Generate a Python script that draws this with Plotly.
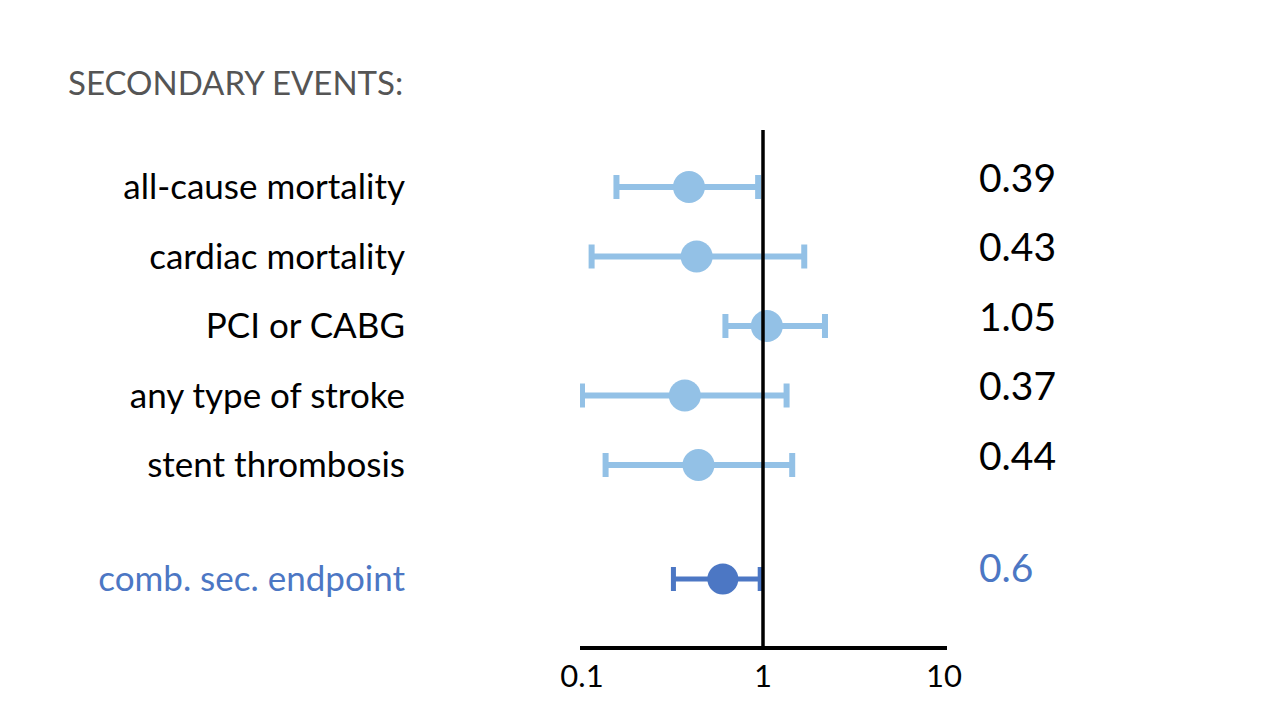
"""Forest plot: secondary events, hazard ratios with 95% CI on a log axis."""
import numpy as np
import plotly.graph_objects as go

# ── data ────────────────────────────────────────────────────────────────────
events = ["all-cause mortality", "cardiac mortality", "PCI or CABG",
          "any type of stroke", "stent thrombosis"]
hr = [0.39, 0.43, 1.05, 0.37, 0.44]
ci_low = [0.155, 0.113, 0.62, 0.10, 0.135]
ci_high = [0.94, 1.69, 2.2, 1.35, 1.45]
hr_labels = ["0.39", "0.43", "1.05", "0.37", "0.44"]

comb_name = "comb. sec. endpoint"
comb_hr = 0.6
comb_low = 0.32
comb_high = 0.965
comb_label = "0.6"

x_ticks = [0.1, 1, 10]
x_tick_text = ["0.1", "1", "10"]

# ── styling / layout ────────────────────────────────────────────────────────
LIGHT = "#93C1E6"
DARK = "#4C77C4"
FONT = "Lato"
W, H = 1280, 720
OFF = 8  # browser body margin shifts the figure by 8px right/down
row_pos = [0, 1, 2, 3, 4]
comb_pos = 5.64

fig = go.Figure()
fig.add_trace(go.Scatter(
    x=hr, y=row_pos, mode="markers",
    marker=dict(size=32, color=LIGHT),
    error_x=dict(type="data", symmetric=False,
                 array=list(np.array(ci_high) - np.array(hr)),
                 arrayminus=list(np.array(hr) - np.array(ci_low)),
                 color=LIGHT, thickness=6, width=12),
    showlegend=False, hoverinfo="skip", cliponaxis=False))
fig.add_trace(go.Scatter(
    x=[comb_hr], y=[comb_pos], mode="markers",
    marker=dict(size=31, color=DARK),
    error_x=dict(type="data", symmetric=False,
                 array=[comb_high - comb_hr], arrayminus=[comb_hr - comb_low],
                 color=DARK, thickness=5, width=12),
    showlegend=False, hoverinfo="skip"))

# reference line at HR = 1
fig.add_shape(type="line", x0=1, x1=1, xref="x", y0=0, y1=1, yref="y domain",
              line=dict(color="black", width=3.5), layer="above")

# HR values on the right, sitting slightly above each row
val_x = (977 - OFF) / W
for p, lab in zip(row_pos, hr_labels):
    fig.add_annotation(x=val_x, xref="paper", y=p - 0.15, yref="y", text=lab,
                       xanchor="left", showarrow=False,
                       font=dict(family=FONT, size=39, color="black"))
fig.add_annotation(x=val_x, xref="paper", y=comb_pos - 0.17, yref="y", text=comb_label,
                   xanchor="left", showarrow=False,
                   font=dict(family=FONT, size=39, color=DARK))

x0_px, x1_px = 580 - OFF, 947 - OFF
one_px, per_dec = 763 - OFF, 181
y_top_px, y_bot_px = 130 - OFF, 646 - OFF
row0_px, row_step = 187 - OFF, 69.5

fig.update_layout(
    width=W, height=H, margin=dict(l=0, r=0, t=0, b=0, autoexpand=False),
    plot_bgcolor="white", paper_bgcolor="white",
    title=dict(text="SECONDARY EVENTS:", x=(68 - OFF) / W, xanchor="left",
               y=1 - (83 - OFF) / H, yanchor="middle",
               font=dict(family=FONT, size=33, color="#555555")),
    xaxis=dict(type="log", domain=[x0_px / W, x1_px / W],
               range=[(x0_px - one_px) / per_dec, (x1_px - one_px) / per_dec],
               tickvals=x_ticks, ticktext=x_tick_text, ticks="",
               showgrid=False, zeroline=False, automargin=False,
               showline=True, linecolor="black", linewidth=3.5,
               tickfont=dict(family=FONT, size=31, color="black")),
    yaxis=dict(domain=[1 - y_bot_px / H, 1 - y_top_px / H],
               range=[(y_bot_px - row0_px) / row_step, (y_top_px - row0_px) / row_step],
               tickvals=row_pos + [comb_pos],
               ticktext=events + [f'<span style="color:{DARK}">{comb_name}</span>'],
               ticks="", ticklabelstandoff=174, automargin=False,
               showgrid=False, zeroline=False, showline=False,
               tickfont=dict(family=FONT, size=35, color="black")),
)

fig.write_html("out.html")
